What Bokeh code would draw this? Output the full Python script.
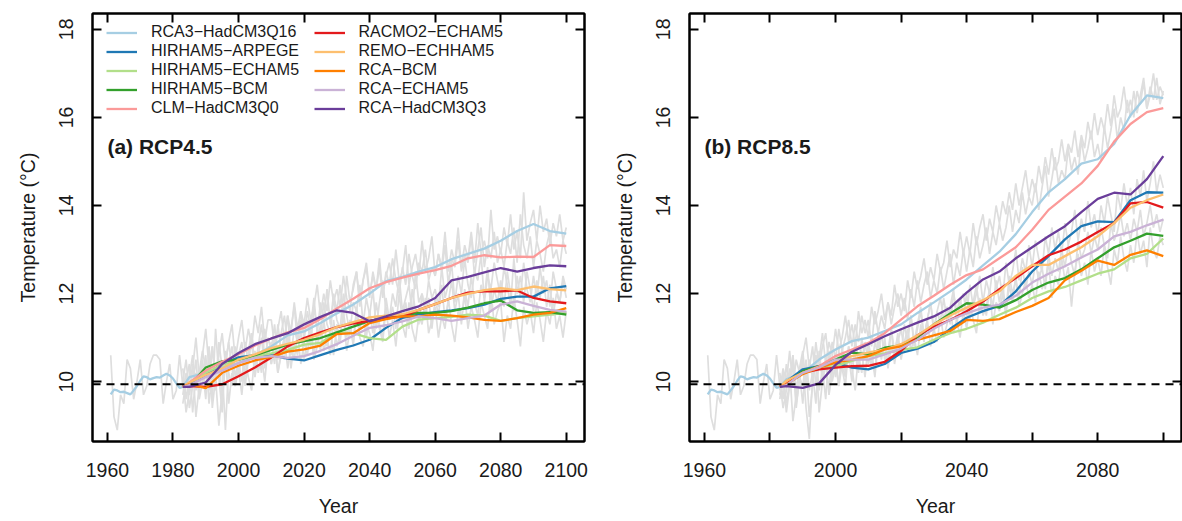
from bokeh.plotting import figure
from bokeh.models import FixedTicker, LinearAxis, Span, Label, Legend, LegendItem, Range1d
from bokeh.layouts import row
from bokeh.embed import file_html
from bokeh.resources import INLINE

FONT = "Liberation Sans"
TXT = "#1a1a1a"

# ---------------- data ----------------
model_names = ["RCA3−HadCM3Q16", "HIRHAM5−ARPEGE", "HIRHAM5−ECHAM5", "HIRHAM5−BCM", "CLM−HadCM3Q0",
               "RACMO2−ECHAM5", "REMO−ECHHAM5", "RCA−BCM", "RCA−ECHAM5", "RCA−HadCM3Q3"]
model_colors = ["#A6CEE3", "#1F78B4", "#B2DF8A", "#33A02C", "#FB9A99",
                "#E31A1C", "#FDBF6F", "#FF7F00", "#CAB2D6", "#6A3D9A"]

x_ticks = [1960, 1980, 2000, 2020, 2040, 2060, 2080, 2100]
y_ticks = [10, 12, 14, 16, 18]
baseline_temp = 9.94

hist_years = list(range(1961, 1984))
hist_smooth = [9.71, 9.82, 9.80, 9.76, 9.77, 9.74, 9.71, 9.80, 9.90, 10.02, 10.12, 10.10, 10.05,
               10.08, 10.10, 10.09, 10.14, 10.18, 10.14, 10.07, 9.96, 9.86, 9.88]
hist_annual = [10.6, 9.2, 8.9, 9.7, 9.5, 10.5, 10.3, 9.6, 10.0, 10.5, 9.7, 9.9, 10.4,
               10.6, 10.6, 10.5, 9.5, 10.0, 10.4, 9.6, 9.8, 10.6, 9.9]

smooth_years = [1983, 1985, 1990, 1995, 2000, 2005, 2010, 2015, 2020, 2025, 2030, 2035, 2040,
                2045, 2050, 2055, 2060, 2065, 2070, 2075, 2080, 2085, 2090, 2095, 2100]
annual_years = list(range(1983, 2101))

# RCP4.5 smoothed model series
a_rca3_hadcm3q16 = [9.88, 10.10, 10.20, 10.33, 10.42, 10.60, 10.80, 11.05, 11.14, 11.33, 11.55, 11.75, 12.00,
                    12.28, 12.38, 12.50, 12.60, 12.78, 12.90, 13.02, 13.20, 13.42, 13.58, 13.42, 13.36]
a_hirham5_arpege = [9.88, 9.94, 10.15, 10.40, 10.55, 10.60, 10.60, 10.52, 10.48, 10.60, 10.72, 10.82, 10.95,
                    11.22, 11.45, 11.52, 11.58, 11.62, 11.67, 11.75, 11.88, 11.93, 11.93, 12.12, 12.17]
a_hirham5_echam5 = [9.88, 9.94, 10.20, 10.38, 10.50, 10.58, 10.64, 10.72, 10.84, 10.88, 11.12, 11.10, 10.99,
                    10.95, 11.25, 11.41, 11.44, 11.47, 11.52, 11.50, 11.38, 11.44, 11.48, 11.52, 11.56]
a_hirham5_bcm = [9.88, 9.90, 10.32, 10.46, 10.50, 10.60, 10.72, 10.84, 10.92, 10.99, 11.12, 11.25, 11.38,
                 11.45, 11.50, 11.56, 11.56, 11.60, 11.68, 11.78, 11.84, 11.62, 11.56, 11.58, 11.52]
a_clm_hadcm3q0 = [9.88, 9.98, 10.25, 10.45, 10.62, 10.82, 10.98, 11.12, 11.22, 11.42, 11.66, 11.88, 12.12,
                  12.26, 12.36, 12.45, 12.53, 12.63, 12.80, 12.87, 12.82, 12.84, 12.83, 13.10, 13.08]
a_racmo2_echam5 = [9.88, 9.90, 9.88, 9.94, 10.12, 10.32, 10.55, 10.80, 10.99, 11.12, 11.24, 11.32, 11.38,
                   11.44, 11.48, 11.63, 11.76, 11.90, 12.02, 12.05, 12.05, 12.07, 11.90, 11.82, 11.78]
a_remo_echham5 = [9.88, 9.98, 10.15, 10.30, 10.50, 10.62, 10.76, 10.86, 10.95, 11.08, 11.24, 11.35, 11.46,
                  11.50, 11.53, 11.63, 11.76, 11.90, 11.99, 12.08, 12.12, 12.08, 12.16, 12.10, 12.07]
a_rca_bcm = [9.88, 9.94, 9.85, 10.20, 10.36, 10.48, 10.56, 10.68, 10.73, 10.82, 11.08, 11.10, 11.33,
             11.42, 11.48, 11.48, 11.52, 11.50, 11.46, 11.40, 11.38, 11.44, 11.52, 11.56, 11.67]
a_rca_echam5 = [9.88, 9.92, 10.10, 10.25, 10.42, 10.54, 10.58, 10.54, 10.58, 10.70, 10.85, 11.04, 11.22,
                11.28, 11.37, 11.48, 11.44, 11.38, 11.44, 11.50, 11.75, 11.82, 11.72, 11.63, 11.59]
a_rca_hadcm3q3 = [9.88, 9.88, 9.98, 10.40, 10.65, 10.85, 10.98, 11.10, 11.30, 11.47, 11.62, 11.56, 11.37,
                  11.48, 11.60, 11.71, 11.90, 12.30, 12.38, 12.48, 12.58, 12.50, 12.58, 12.64, 12.62]

# RCP8.5 smoothed model series
b_rca3_hadcm3q16 = [9.88, 10.05, 10.20, 10.50, 10.73, 10.92, 11.00, 11.15, 11.30, 11.56, 11.80, 12.05, 12.32,
                    12.64, 12.95, 13.35, 13.85, 14.30, 14.60, 14.95, 15.05, 15.40, 16.05, 16.50, 16.44]
b_hirham5_arpege = [9.88, 10.00, 10.28, 10.35, 10.43, 10.32, 10.28, 10.40, 10.65, 10.75, 10.90, 11.20, 11.45,
                    11.60, 11.72, 12.05, 12.50, 12.85, 13.23, 13.53, 13.64, 13.62, 14.12, 14.30, 14.29]
b_hirham5_echam5 = [9.88, 9.94, 10.20, 10.32, 10.35, 10.47, 10.58, 10.64, 10.72, 10.78, 10.95, 11.10, 11.20,
                    11.34, 11.52, 11.68, 11.90, 12.05, 12.15, 12.30, 12.45, 12.55, 12.80, 12.90, 13.25]
b_hirham5_bcm = [9.88, 9.94, 10.24, 10.35, 10.50, 10.66, 10.62, 10.77, 10.82, 11.00, 11.30, 11.55, 11.78,
                 11.75, 11.68, 11.85, 12.08, 12.25, 12.35, 12.55, 12.80, 13.05, 13.20, 13.36, 13.31]
b_clm_hadcm3q0 = [9.88, 9.98, 10.20, 10.35, 10.58, 10.73, 10.88, 11.10, 11.41, 11.71, 11.95, 12.20, 12.42,
                  12.55, 12.80, 13.05, 13.45, 13.90, 14.20, 14.50, 14.90, 15.45, 15.85, 16.12, 16.21]
b_racmo2_echam5 = [9.88, 9.94, 10.20, 10.28, 10.32, 10.35, 10.36, 10.45, 10.70, 11.05, 11.25, 11.40, 11.60,
                   11.82, 12.10, 12.35, 12.62, 12.87, 13.00, 13.18, 13.40, 13.60, 14.05, 14.08, 13.95]
b_remo_echham5 = [9.88, 10.02, 10.20, 10.32, 10.47, 10.58, 10.66, 10.73, 10.85, 11.05, 11.30, 11.50, 11.68,
                  11.85, 12.05, 12.40, 12.65, 12.65, 12.85, 13.05, 13.30, 13.60, 13.95, 14.12, 14.25]
b_rca_bcm = [9.88, 9.94, 10.17, 10.32, 10.43, 10.50, 10.58, 10.73, 10.80, 10.95, 11.05, 11.15, 11.40,
             11.38, 11.42, 11.58, 11.72, 11.90, 12.30, 12.52, 12.75, 12.65, 12.88, 12.98, 12.85]
b_rca_echam5 = [9.88, 9.92, 10.20, 10.32, 10.50, 10.50, 10.50, 10.62, 10.75, 10.95, 11.20, 11.40, 11.55,
                11.68, 11.75, 11.95, 12.25, 12.45, 12.62, 12.82, 13.00, 13.30, 13.40, 13.55, 13.68]
b_rca_hadcm3q3 = [9.88, 9.90, 9.86, 9.96, 10.38, 10.68, 10.85, 11.03, 11.19, 11.34, 11.48, 11.68, 12.02,
                  12.32, 12.50, 12.80, 13.05, 13.30, 13.53, 13.85, 14.15, 14.29, 14.25, 14.60, 15.12]

# annual (grey) series, 1983-2100
a_grey_1 = [10.3, 9.6, 10.1, 10.6, 9.8, 10.2, 10.7,
            10.3, 9.8, 10.8, 10.0, 10.5, 9.6, 10.4, 10.9, 10.3, 9.9,
            10.6, 10.9, 10.1, 10.7, 11.1, 10.3, 10.8, 11.3, 10.5, 11.0,
            10.7, 11.3, 10.5, 11.1, 11.5, 10.8, 11.2, 11.7, 10.9, 11.4,
            11.0, 11.6, 11.2, 11.9, 11.1, 11.8, 11.4, 12.1, 11.3, 12.0,
            11.6, 12.2, 11.5, 12.4, 11.8, 12.1, 12.5, 11.7, 12.3, 12.6,
            11.9, 12.5, 12.1, 12.8, 12.0, 12.4, 12.7, 12.2, 13.0, 12.3,
            12.5, 13.1, 12.2, 12.6, 12.9, 12.4, 13.2, 12.5, 12.8, 13.3,
            12.4, 12.9, 12.6, 13.4, 12.5, 13.0, 12.7, 13.5, 12.6, 13.1,
            12.8, 13.4, 12.7, 13.6, 12.9, 13.2, 12.8, 13.9, 13.0, 13.3,
            12.9, 13.5, 13.1, 13.8, 13.0, 13.4, 12.8, 14.3, 13.2, 13.6,
            13.9, 13.2, 14.0, 13.4, 13.7, 13.1, 13.6, 13.3, 13.8, 13.2,
            13.5]
a_grey_2 = [9.7, 10.2, 9.4, 9.9, 10.5, 9.6, 10.0,
            10.6, 9.5, 10.2, 9.8, 10.9, 10.3, 8.9, 10.4, 10.8, 10.1,
            10.5, 10.0, 10.9, 10.4, 11.1, 10.3, 10.7, 10.2, 11.2, 10.6,
            10.9, 10.4, 11.3, 10.7, 11.0, 11.5, 10.6, 11.2, 10.9, 11.6,
            11.0, 11.4, 10.8, 11.7, 11.2, 11.0, 11.8, 11.3, 11.1, 11.9,
            11.4, 11.2, 12.0, 11.5, 11.1, 11.8, 11.6, 12.2, 11.3, 11.9,
            11.5, 12.1, 11.2, 11.8, 12.3, 11.6, 11.4, 12.0, 11.7, 12.4,
            11.6, 11.9, 12.2, 11.5, 12.5, 11.8, 12.0, 11.6, 12.3, 11.9,
            12.1, 11.7, 12.6, 11.9, 12.2, 12.7, 11.8, 12.4, 12.0, 12.8,
            12.2, 11.9, 12.5, 12.3, 12.9, 11.8, 12.4, 12.1, 12.7, 12.3,
            11.9, 12.6, 12.2, 11.7, 12.8, 12.0, 12.4, 11.8, 12.5, 12.1,
            11.6, 12.3, 11.9, 12.4, 11.7, 12.2, 11.5, 12.0, 11.8, 12.3,
            11.9]
a_grey_3 = [10.1, 9.3, 9.8, 10.4, 9.2, 9.9, 10.3,
            9.6, 10.8, 9.4, 10.1, 9.0, 9.8, 10.6, 9.5, 10.2, 9.9,
            10.3, 9.7, 10.5, 10.1, 9.8, 10.7, 10.2, 10.6, 10.0, 10.8,
            10.4, 10.9, 10.2, 10.6, 11.0, 10.3, 10.8, 10.5, 11.1, 10.4,
            10.9, 10.6, 11.2, 10.5, 10.8, 11.3, 10.7, 11.0, 10.6, 11.4,
            10.8, 11.1, 11.5, 10.7, 11.2, 10.9, 11.6, 11.0, 10.8, 11.3,
            11.1, 10.7, 11.5, 11.2, 10.9, 11.7, 11.0, 11.4, 10.8, 11.6,
            11.3, 11.0, 11.8, 11.2, 10.9, 11.5, 11.3, 11.9, 11.1, 11.4,
            11.7, 11.0, 11.5, 11.2, 11.9, 11.3, 10.9, 11.6, 11.4, 12.0,
            11.2, 11.7, 11.4, 11.0, 11.8, 11.5, 11.2, 12.1, 11.3, 11.6,
            11.8, 10.9, 11.5, 11.2, 11.9, 11.4, 10.8, 11.7, 11.3, 11.6,
            11.1, 11.8, 11.4, 10.9, 11.6, 11.3, 11.9, 11.2, 11.5, 11.0,
            11.6]
a_grey_4 = [10.0, 10.5, 9.7, 10.3, 11.0, 10.1, 10.6,
            11.2, 10.3, 10.8, 10.0, 10.6, 11.1, 10.4, 10.9, 11.3, 10.5,
            11.0, 11.4, 10.7, 11.2, 10.8, 11.5, 11.1, 11.7, 10.9, 11.4,
            11.4, 10.8, 11.2, 11.6, 10.9, 11.5, 11.1, 11.8, 11.2, 11.6,
            11.3, 11.9, 11.4, 11.7, 12.2, 11.5, 12.0, 11.6, 12.3, 11.8,
            12.1, 11.7, 12.4, 11.9, 11.6, 12.2, 12.5, 11.8, 12.3, 12.7,
            12.0, 12.4, 12.1, 12.6, 11.9, 12.5, 12.2, 12.8, 12.3, 12.0,
            12.6, 12.2, 12.9, 12.4, 12.1, 12.7, 12.5, 13.0, 12.3, 12.6,
            12.4, 12.9, 12.5, 13.1, 12.2, 12.8, 12.6, 13.2, 12.5, 12.9,
            12.7, 13.3, 12.4, 13.0, 13.5, 12.6, 13.1, 12.8, 13.4, 12.7,
            13.0, 12.6, 13.2, 12.9, 13.5, 12.7, 13.8, 13.1, 12.8, 13.3,
            12.6, 13.2, 12.9, 12.5, 13.1, 13.4, 12.8, 13.0, 12.6, 13.2,
            12.9]
a_grey_5 = [9.5, 10.0, 10.4, 9.3, 10.2, 9.7, 10.5,
            9.8, 10.3, 9.6, 11.2, 10.1, 9.3, 10.7, 10.2, 9.9, 10.8,
            10.2, 10.7, 9.9, 10.5, 10.9, 10.1, 10.6, 11.0, 10.3, 10.8,
            10.4, 11.0, 10.2, 10.7, 10.5, 11.1, 10.3, 10.9, 10.6, 11.2,
            10.5, 10.9, 11.3, 10.6, 11.1, 10.7, 11.4, 10.8, 11.2, 10.6,
            11.3, 10.9, 11.6, 11.0, 11.4, 10.8, 11.7, 11.2, 11.5, 11.0,
            11.6, 11.1, 11.8, 11.3, 11.0, 11.9, 11.4, 11.7, 11.2, 12.0,
            11.4, 11.8, 11.2, 12.1, 11.6, 11.3, 12.0, 11.5, 11.9, 11.2,
            11.9, 11.5, 12.2, 11.4, 11.8, 12.3, 11.6, 12.0, 11.3, 12.1,
            11.7, 12.4, 11.8, 11.5, 12.2, 11.9, 12.6, 11.6, 12.1, 11.8,
            12.3, 11.7, 12.5, 12.0, 11.6, 12.4, 11.9, 12.7, 12.1, 11.8,
            12.4, 11.9, 12.6, 12.0, 12.3, 11.7, 12.5, 12.1, 11.8, 12.4,
            12.1]

b_grey_1 = [10.2, 9.6, 10.4, 9.9, 10.6, 9.8, 10.3,
            10.7, 9.9, 10.5, 10.1, 10.9, 10.3, 10.8, 11.1, 10.4, 10.9,
            10.5, 11.2, 10.7, 11.0, 11.4, 10.8, 11.3, 10.9, 11.5, 11.1,
            11.4, 10.8, 11.6, 11.1, 11.5, 11.2, 11.8, 11.3, 11.7, 12.0,
            11.5, 11.9, 11.4, 12.1, 11.7, 12.3, 11.8, 12.2, 12.5, 11.9,
            12.3, 12.0, 12.6, 12.1, 12.5, 12.9, 12.2, 12.7, 12.4, 13.0,
            12.5, 13.0, 12.6, 13.3, 12.8, 13.1, 13.5, 12.9, 13.4, 13.1,
            13.6, 13.2, 13.5, 14.0, 13.4, 13.9, 13.6, 14.3, 13.8, 14.2,
            14.0, 14.5, 13.9, 14.4, 14.9, 14.2, 14.6, 15.1, 14.5, 14.8,
            14.6, 15.3, 14.8, 15.1, 14.7, 15.5, 15.0, 15.3, 15.7, 15.1,
            15.4, 15.0, 15.8, 15.3, 15.7, 16.2, 15.5, 16.0, 15.7, 16.4,
            16.0, 16.6, 16.1, 16.5, 16.9, 16.2, 16.7, 16.4, 16.9, 16.3,
            16.6]
b_grey_2 = [9.6, 10.1, 9.3, 9.9, 10.4, 9.5, 10.0,
            10.5, 9.4, 8.7, 10.1, 10.6, 9.8, 10.3, 9.6, 10.7, 10.0,
            10.4, 9.9, 10.8, 10.2, 10.6, 10.0, 11.0, 10.4, 10.7, 10.1,
            10.9, 10.5, 10.2, 11.1, 10.6, 10.9, 10.4, 11.2, 10.7, 11.0,
            10.6, 11.3, 10.9, 11.5, 10.8, 11.2, 11.6, 11.0, 11.4, 11.8,
            11.1, 11.6, 11.3, 11.9, 11.4, 11.7, 12.1, 11.3, 11.8, 12.0,
            11.5, 12.2, 11.7, 12.0, 12.4, 11.8, 12.3, 12.0, 12.6, 12.1,
            12.4, 11.9, 12.7, 12.2, 12.5, 13.0, 12.3, 12.8, 12.5, 13.1,
            12.6, 13.2, 12.8, 12.5, 13.3, 12.9, 13.5, 13.0, 13.4, 12.9,
            13.6, 13.1, 13.4, 13.9, 13.2, 13.7, 13.4, 14.1, 13.5, 13.8,
            13.3, 14.0, 13.6, 14.2, 13.8, 13.4, 14.3, 13.9, 14.5, 14.0,
            14.4, 13.8, 14.6, 14.2, 14.8, 14.1, 14.5, 15.0, 14.3, 14.7,
            14.4]
b_grey_3 = [10.0, 9.4, 9.8, 10.3, 9.1, 9.7, 10.2,
            9.5, 10.4, 9.2, 9.9, 10.6, 9.3, 10.0, 10.5, 9.7, 10.2,
            10.6, 9.9, 10.4, 10.1, 10.8, 10.3, 9.8, 10.6, 10.2, 10.9,
            10.4, 10.7, 10.1, 10.9, 10.5, 11.0, 10.3, 10.8, 10.6, 11.1,
            10.5, 10.9, 11.2, 10.7, 11.0, 10.6, 11.3, 10.9, 11.4, 10.8,
            11.2, 10.9, 11.5, 11.0, 11.3, 11.7, 11.1, 11.4, 11.0, 11.6,
            11.2, 11.8, 11.4, 11.1, 11.9, 11.5, 11.7, 12.1, 11.3, 11.8,
            11.6, 12.0, 11.5, 12.2, 11.8, 12.4, 11.7, 12.0, 12.3, 11.9,
            12.2, 11.8, 12.5, 12.1, 12.3, 12.7, 11.9, 12.4, 12.2, 12.8,
            12.3, 12.6, 11.7, 12.5, 12.9, 12.4, 12.7, 12.2, 13.0, 12.5,
            12.8, 12.4, 13.1, 12.6, 12.2, 13.0, 12.7, 13.3, 12.8, 12.5,
            13.1, 12.7, 13.4, 12.9, 13.2, 12.6, 13.5, 13.0, 12.8, 13.3,
            13.1]
b_grey_4 = [9.8, 10.3, 10.0, 10.7, 9.9, 10.5, 10.2,
            10.6, 11.0, 10.3, 10.8, 9.9, 10.5, 11.1, 10.4, 10.9, 10.6,
            11.2, 10.7, 11.0, 11.5, 10.9, 11.3, 10.8, 11.6, 11.1, 11.4,
            11.0, 11.7, 11.3, 11.6, 12.0, 11.4, 11.8, 11.5, 12.2, 11.7,
            12.0, 11.6, 12.3, 11.9, 12.5, 12.1, 12.4, 12.8, 12.2, 12.6,
            12.3, 12.9, 12.5, 12.7, 13.2, 12.6, 13.0, 12.8, 13.4, 12.9,
            13.3, 12.9, 13.6, 13.1, 13.5, 13.8, 13.2, 13.7, 13.4, 14.0,
            13.6, 14.1, 13.8, 14.3, 13.9, 14.5, 14.0, 14.4, 14.8, 14.2,
            14.6, 14.3, 14.9, 14.5, 15.1, 14.7, 15.3, 14.8, 15.0, 15.5,
            15.0, 15.4, 15.2, 15.7, 15.1, 15.6, 15.3, 15.9, 15.5, 16.1,
            15.6, 16.0, 15.7, 16.3, 15.8, 16.5, 16.0, 16.2, 16.7, 16.1,
            16.4, 16.0, 16.6, 16.3, 16.8, 16.2, 16.5, 17.0, 16.4, 16.7,
            16.5]
b_grey_5 = [9.7, 10.2, 9.5, 10.0, 10.6, 9.4, 10.1,
            9.9, 10.5, 9.8, 10.2, 9.5, 10.7, 10.0, 10.4, 9.8, 10.6,
            10.1, 10.7, 10.3, 9.9, 10.8, 10.4, 10.6, 10.2, 11.0, 10.5,
            10.8, 10.3, 10.9, 10.6, 11.1, 10.5, 10.7, 11.2, 10.4, 10.9,
            11.2, 10.7, 11.0, 11.5, 10.9, 11.3, 11.7, 11.0, 11.4, 11.8,
            11.2, 11.6, 11.9, 11.4, 11.7, 11.3, 12.0, 11.6, 11.9, 11.5,
            12.0, 11.4, 11.8, 12.2, 11.6, 11.9, 11.5, 12.1, 11.7, 12.3,
            11.8, 12.2, 11.6, 12.4, 12.0, 12.3, 11.9, 12.6, 12.1, 12.5,
            12.2, 12.7, 12.3, 12.6, 12.1, 12.9, 12.4, 12.8, 12.5, 13.0,
            12.6, 13.1, 12.7, 12.4, 13.2, 12.8, 13.0, 13.4, 12.9, 13.3,
            13.0, 13.5, 13.1, 12.8, 13.6, 13.2, 13.4, 13.8, 13.3, 13.6,
            13.2, 13.7, 13.4, 13.9, 13.3, 13.6, 14.0, 13.5, 13.8, 13.4,
            13.7]

rcp45_smooth = [a_rca3_hadcm3q16, a_hirham5_arpege, a_hirham5_echam5, a_hirham5_bcm, a_clm_hadcm3q0,
                a_racmo2_echam5, a_remo_echham5, a_rca_bcm, a_rca_echam5, a_rca_hadcm3q3]
rcp85_smooth = [b_rca3_hadcm3q16, b_hirham5_arpege, b_hirham5_echam5, b_hirham5_bcm, b_clm_hadcm3q0,
                b_racmo2_echam5, b_remo_echham5, b_rca_bcm, b_rca_echam5, b_rca_hadcm3q3]
rcp45_annual = [a_grey_1, a_grey_2, a_grey_3, a_grey_4, a_grey_5]
rcp85_annual = [b_grey_1, b_grey_2, b_grey_3, b_grey_4, b_grey_5]


# ---------------- drawing ----------------
def style_axis(ax, ticker, labels=True):
    ax.ticker = ticker
    ax.axis_line_width = 2
    ax.axis_line_color = "black"
    ax.major_tick_line_width = 2
    ax.major_tick_line_color = "black"
    ax.major_tick_in = 9
    ax.major_tick_out = 0
    ax.minor_tick_line_color = None
    if labels:
        ax.major_label_text_font = FONT
        ax.major_label_text_font_size = "19.5px"
        ax.major_label_text_color = TXT
        ax.axis_label_text_font = FONT
        ax.axis_label_text_font_size = "19.5px"
        ax.axis_label_text_font_style = "normal"
        ax.axis_label_text_color = TXT
    else:
        ax.major_label_text_font_size = "0px"
        ax.major_label_text_color = None
        ax.major_label_standoff = 0


def make_panel(tag, smooth, annual, with_legend, skip_labels, b_left, b_right):
    p = figure(frame_width=492, frame_height=428,
               x_range=Range1d(1955.44, 2105.56), y_range=Range1d(8.64, 18.36),
               output_backend="svg", toolbar_location=None,
               min_border_left=b_left, min_border_right=b_right,
               min_border_top=13, min_border_bottom=80,
               x_axis_label="Year", y_axis_label="Temperature (°C)")
    p.xgrid.visible = False
    p.ygrid.visible = False
    p.outline_line_color = "black"
    p.outline_line_width = 2
    p.background_fill_color = "white"

    xt = FixedTicker(ticks=x_ticks)
    yt = FixedTicker(ticks=y_ticks)
    style_axis(p.xaxis[0], xt)
    p.xaxis[0].major_label_standoff = 21
    p.xaxis[0].axis_label_standoff = 15
    if skip_labels:
        p.xaxis[0].major_label_overrides = {t: "" for t in skip_labels}
    style_axis(p.yaxis[0], yt)
    p.yaxis[0].major_label_orientation = "vertical"
    p.yaxis[0].major_label_standoff = 19
    p.yaxis[0].axis_label_standoff = 18

    top = LinearAxis()
    style_axis(top, xt, labels=False)
    p.add_layout(top, "above")
    right = LinearAxis()
    style_axis(right, yt, labels=False)
    p.add_layout(right, "right")

    grey = "#DEDEDE"
    p.line(hist_years, hist_annual, line_color=grey, line_width=1.7)
    for s in annual:
        n = min(len(annual_years), len(s))
        p.line(annual_years[:n], s[:n], line_color=grey, line_width=1.7)

    p.line(hist_years, hist_smooth, line_color=model_colors[0], line_width=2.3)
    rends = []
    for s, c in zip(smooth, model_colors):
        n = min(len(smooth_years), len(s))
        rends.append(p.line(smooth_years[:n], s[:n], line_color=c, line_width=2.3))

    p.add_layout(Span(location=baseline_temp, dimension="width", line_color="black",
                      line_width=2, line_dash="8 6"))

    p.add_layout(Label(x=1960.0, y=15.34, text=tag, text_font=FONT, text_font_style="bold",
                       text_font_size="21px", text_color=TXT, text_baseline="middle",
                       text_align="left"))

    if with_legend:
        for lo, hi, vx in [(0, 5, 14), (5, 10, 221.5)]:
            items = [LegendItem(label=model_names[i], renderers=[rends[i]]) for i in range(lo, hi)]
            leg = Legend(items=items, location=(vx, 323.5), orientation="vertical",
                         glyph_width=31, glyph_height=19, label_height=19, label_standoff=14,
                         spacing=0, padding=0, margin=0,
                         border_line_color=None, background_fill_alpha=0,
                         label_text_font=FONT, label_text_font_size="16px",
                         label_text_color=TXT)
            p.add_layout(leg)
    return p


p1 = make_panel("(a) RCP4.5", rcp45_smooth, rcp45_annual, True, None, 92, 6)
p2 = make_panel("(b) RCP8.5", rcp85_smooth, rcp85_annual, False, [1980, 2020, 2060, 2100], 99, 1)

layout = row(p1, p2)
open("out.html", "w").write(file_html(layout, INLINE))
